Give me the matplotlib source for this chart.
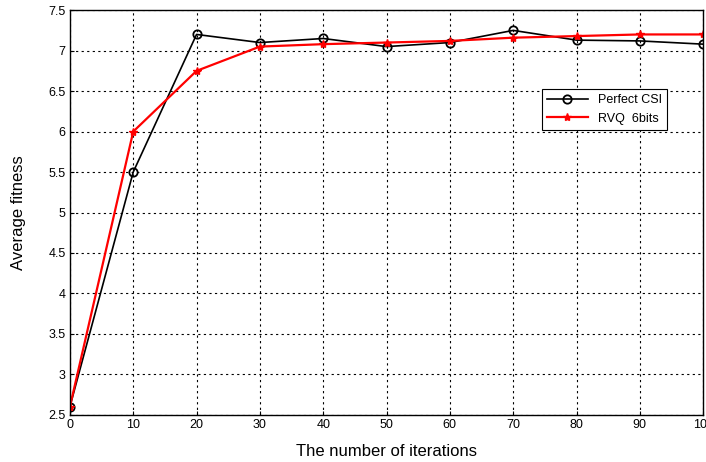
import matplotlib
matplotlib.use("Agg")
import matplotlib.pyplot as plt

iterations = [0, 10, 20, 30, 40, 50, 60, 70, 80, 90, 100]
perfect_csi = [2.6, 5.5, 7.2, 7.1, 7.15, 7.05, 7.1, 7.25, 7.13, 7.12, 7.08]
rvq_6bits = [2.6, 6.0, 6.75, 7.05, 7.08, 7.1, 7.12, 7.16, 7.18, 7.2, 7.2]
yticks = [2.5, 3, 3.5, 4, 4.5, 5, 5.5, 6, 6.5, 7, 7.5]

plt.rcParams['font.family'] = ['Liberation Sans', 'DejaVu Sans']

fig = plt.figure(figsize=(7.06, 4.62), dpi=100)
ax = fig.add_axes([0.099, 0.102, 0.897, 0.876])

ax.plot(iterations, perfect_csi, color='black', lw=1.2, marker='o',
        markersize=6, markerfacecolor='none', markeredgewidth=1.3,
        label='Perfect CSI')
ax.plot(iterations, rvq_6bits, color='red', lw=1.6, marker='*',
        markersize=6, label='RVQ  6bits')

ax.set_xlim(0, 100)
ax.set_ylim(2.5, 7.5)
ax.set_xticks(iterations)
ax.set_yticks(yticks)
ax.set_yticklabels([f"{v:g}" for v in yticks])
ax.tick_params(labelsize=9, direction='in', length=3, pad=3)
ax.grid(True, color='black', linestyle=(0, (2, 3)), linewidth=0.8)
for sp in ax.spines.values():
    sp.set_linewidth(1.0)

ax.set_xlabel("The number of iterations", fontsize=12, labelpad=9)
ax.set_ylabel("Average fitness", fontsize=12, labelpad=16)

leg = ax.legend(loc='upper left', bbox_to_anchor=(0.735, 0.82), fontsize=9,
                fancybox=False, edgecolor='black', framealpha=1,
                handlelength=3.3, borderpad=0.4, labelspacing=0.5)
leg.get_frame().set_linewidth(0.8)

fig.savefig("out.png", dpi=100)
